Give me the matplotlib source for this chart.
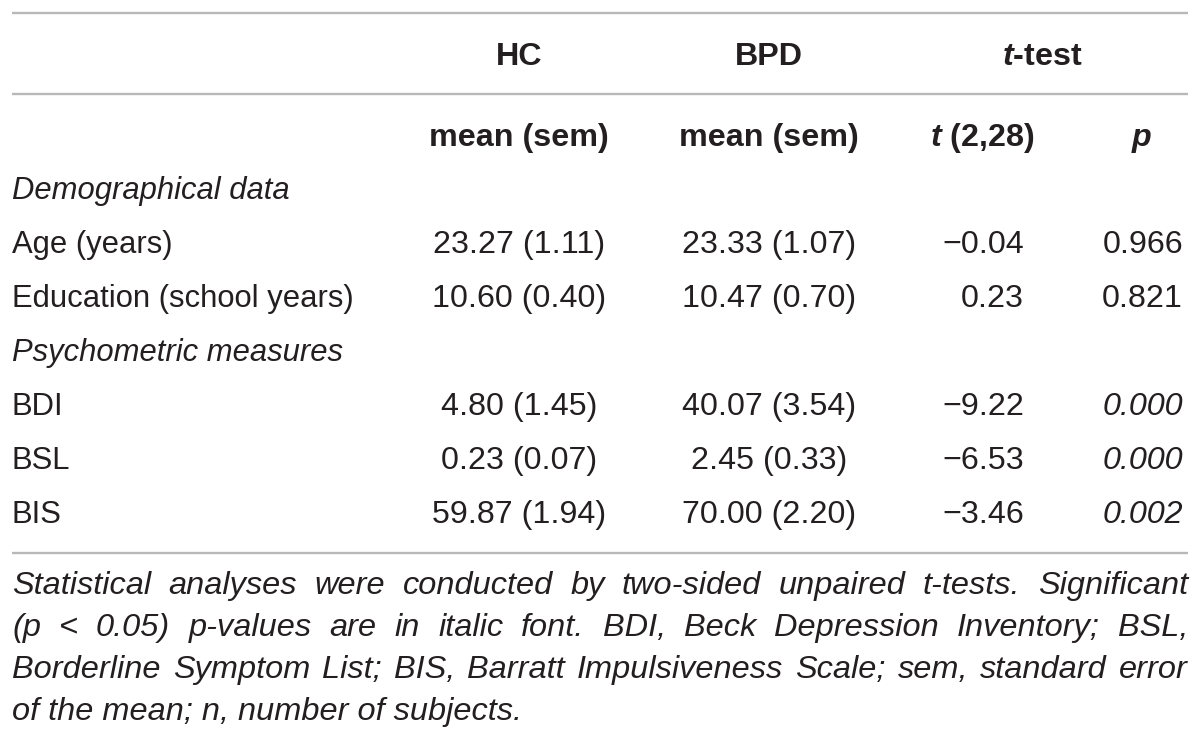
import matplotlib
matplotlib.use('Agg')
import matplotlib.pyplot as plt

plt.rcParams['mathtext.fontset'] = 'custom'
plt.rcParams['mathtext.rm'] = 'Liberation Sans'
plt.rcParams['mathtext.it'] = 'Liberation Sans:italic'
plt.rcParams['mathtext.bf'] = 'Liberation Sans:bold'
plt.rcParams['mathtext.bfit'] = 'Liberation Sans:italic:bold'

# table data
rows = ['Age (years)', 'Education (school years)', 'BDI', 'BSL', 'BIS']
groups = ['Demographical data', None, 'Psychometric measures', None, None]
hc = ['23.27 (1.11)', '10.60 (0.40)', '4.80 (1.45)', '0.23 (0.07)', '59.87 (1.94)']
bpd = ['23.33 (1.07)', '10.47 (0.70)', '40.07 (3.54)', '2.45 (0.33)', '70.00 (2.20)']
tval = ['\u22120.04', '0.23', '\u22129.22', '\u22126.53', '\u22123.46']
pval = ['0.966', '0.821', '0.000', '0.000', '0.002']
signif = [False, False, True, True, True]

footnote = [
    'Statistical analyses were conducted by two-sided unpaired t-tests. Significant',
    '(p  <  0.05) p-values are in italic font. BDI, Beck Depression Inventory; BSL,',
    'Borderline Symptom List; BIS, Barratt Impulsiveness Scale; sem, standard error',
    'of the mean; n, number of subjects.',
]

txt = '#231f20'
line_c = '#b8b8b8'
fam = 'Liberation Sans'
fs_lab = 22.3   # row labels
fs_val = 23.2   # numbers and headers

fig = plt.figure(figsize=(12, 7.43), dpi=100)
ax = fig.add_axes([0, 0, 1, 1])
ax.set_xlim(0, 1200)
ax.set_ylim(743, 0)
ax.axis('off')

left, right = 12, 1188
for y in [13, 94, 553]:
    ax.hlines(y, left, right, color=line_c, lw=1.7)

x_hc, x_bpd, x_t, x_p = 519, 769, 1024, 1183

# header (baselines)
kw = dict(va='baseline', fontsize=fs_val, fontweight='bold', family=fam, color=txt)
ax.text(x_hc, 65, 'HC', ha='center', **kw)
ax.text(x_bpd, 65, 'BPD', ha='center', **kw)
ax.text(1042, 65, r'$\mathbfit{t}$-test', ha='center', **kw)
ax.text(x_hc, 146, 'mean (sem)', ha='center', **kw)
ax.text(x_bpd, 146, 'mean (sem)', ha='center', **kw)
ax.text(982, 146, r'$\mathbfit{t}$ (2,28)', ha='center', **kw)
ax.text(1142, 146, 'p', ha='center', style='italic', **kw)

# body
y = 199
for i in range(len(rows)):
    if groups[i] is not None:
        ax.text(left, y, groups[i], ha='left', va='baseline', fontsize=fs_lab, style='italic',
                family=fam, color=txt)
        y += 54
    ax.text(left, y, rows[i], ha='left', va='baseline', fontsize=fs_lab, family=fam, color=txt)
    ax.text(x_hc, y, hc[i], ha='center', va='baseline', fontsize=fs_val, family=fam, color=txt)
    ax.text(x_bpd, y, bpd[i], ha='center', va='baseline', fontsize=fs_val, family=fam, color=txt)
    ax.text(x_t, y, tval[i], ha='right', va='baseline', fontsize=fs_val, family=fam, color=txt)
    ax.text(x_p, y, pval[i], ha='right', va='baseline', fontsize=fs_val, family=fam, color=txt,
            style='italic' if signif[i] else 'normal')
    y += 54

# footnote, justified
renderer = fig.canvas.get_renderer()
probe = ax.text(0, 0, footnote[-1], fontsize=20, style='italic', family=fam)
w = probe.get_window_extent(renderer).width
probe.remove()
ffs = 20 * 508 / w

for k, line in enumerate(footnote):
    yy = 594 + 42 * k
    if k == len(footnote) - 1:
        ax.text(left, yy, line, ha='left', va='baseline', fontsize=ffs, style='italic', family=fam, color=txt)
        continue
    words = line.split()
    objs = [ax.text(0, yy, wd, ha='left', va='baseline', fontsize=ffs, style='italic', family=fam, color=txt)
            for wd in words]
    widths = [o.get_window_extent(renderer).width for o in objs]
    gap = (right - left - sum(widths)) / (len(words) - 1)
    x = left
    for o, wd in zip(objs, widths):
        o.set_x(x)
        x += wd + gap

fig.savefig('out.png', dpi=100, facecolor='white')
